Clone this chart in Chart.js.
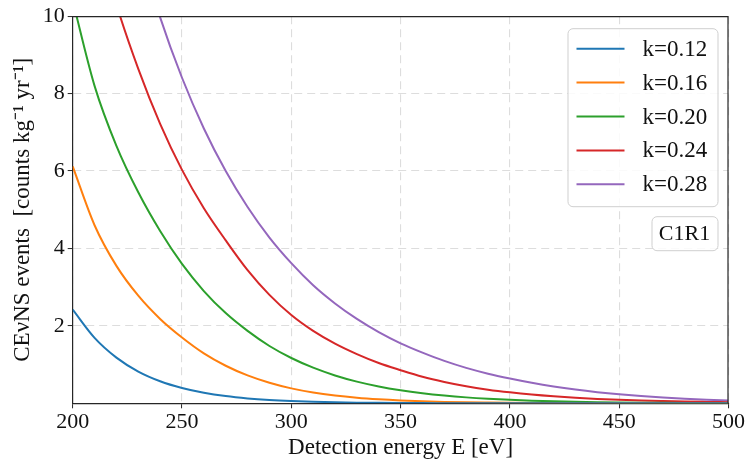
<!DOCTYPE html>
<html>
<head>
<meta charset="utf-8">
<script src="https://cdn.jsdelivr.net/npm/chart.js@4/dist/chart.umd.min.js"></script>
<style>
  html, body { margin: 0; padding: 0; background: #ffffff; }
  #wrap { width: 746px; height: 464px; }
</style>
</head>
<body>
<div id="wrap"><canvas id="chart" width="746" height="464"></canvas></div>
<script>
// Detection energy grid [eV]
const energies = [200, 210, 220, 230, 240, 250, 260, 270, 280, 290, 300,
                  310, 320, 330, 340, 350, 360, 370, 380, 390, 400,
                  410, 420, 430, 440, 450, 460, 470, 480, 490, 500];

// CEvNS event rates [counts / kg / yr] for each quenching parameter k
const rateK012 = [2.42, 1.69, 1.18, 0.82, 0.57, 0.395, 0.272, 0.186, 0.127, 0.086, 0.058,
                  0.039, 0.026, 0.017, 0.011, 0.007, 0.0046, 0.003, 0.0019, 0.0012, 0.0008,
                  0.0005, 0.0003, 0.0002, 0.0001, 0.0001, 0, 0, 0, 0, 0];
const rateK016 = [6.12, 4.6, 3.55, 2.78, 2.18, 1.7, 1.29, 0.97, 0.72, 0.53, 0.385,
                  0.278, 0.2, 0.143, 0.102, 0.072, 0.051, 0.036, 0.025, 0.018, 0.0125,
                  0.0087, 0.006, 0.0042, 0.0029, 0.002, 0.0014, 0.001, 0.0007, 0.0005, 0.0003];
const rateK020 = [10.4, 8.2, 6.65, 5.45, 4.45, 3.6, 2.9, 2.33, 1.87, 1.48, 1.17,
                  0.92, 0.72, 0.56, 0.435, 0.337, 0.26, 0.2, 0.153, 0.117, 0.089,
                  0.068, 0.052, 0.039, 0.03, 0.023, 0.017, 0.013, 0.01, 0.0075, 0.0057];
const rateK024 = [14.8, 12.3, 10.3, 8.64, 7.22, 6.03, 5.04, 4.21, 3.44, 2.8, 2.28,
                  1.87, 1.54, 1.27, 1.04, 0.855, 0.685, 0.55, 0.44, 0.353, 0.283,
                  0.225, 0.179, 0.142, 0.113, 0.09, 0.071, 0.057, 0.045, 0.036, 0.028];
const rateK028 = [19.6, 16.6, 14.0, 11.85, 9.97, 8.41, 7.1, 6.0, 5.07, 4.28, 3.62,
                  3.05, 2.58, 2.18, 1.84, 1.55, 1.31, 1.095, 0.915, 0.765, 0.64,
                  0.53, 0.435, 0.355, 0.288, 0.232, 0.186, 0.148, 0.117, 0.092, 0.072];

const seriesLabels = ['k=0.12', 'k=0.16', 'k=0.20', 'k=0.24', 'k=0.28'];
const seriesRates = [rateK012, rateK016, rateK020, rateK024, rateK028];
const seriesColors = ['#1f77b4', '#ff7f0e', '#2ca02c', '#d62728', '#9467bd'];

const xTickValues = [200, 250, 300, 350, 400, 450, 500];
const yTickValues = [2, 4, 6, 8, 10];
const detectorTag = 'C1R1';

const FONT = '"Liberation Serif", "Times New Roman", serif';
const TEXT = '#111111';
const AXIS = '#262626';

const datasets = seriesRates.map((rates, i) => ({
  label: seriesLabels[i],
  data: energies.map((e, j) => ({ x: e, y: rates[j] })),
  borderColor: seriesColors[i],
  backgroundColor: seriesColors[i],
  borderWidth: 2,
  pointRadius: 0,
  fill: false,
  cubicInterpolationMode: 'monotone'
}));

function roundedRect(ctx, x, y, w, h, r) {
  ctx.beginPath();
  ctx.moveTo(x + r, y);
  ctx.lineTo(x + w - r, y);
  ctx.arcTo(x + w, y, x + w, y + r, r);
  ctx.lineTo(x + w, y + h - r);
  ctx.arcTo(x + w, y + h, x + w - r, y + h, r);
  ctx.lineTo(x + r, y + h);
  ctx.arcTo(x, y + h, x, y + h - r, r);
  ctx.lineTo(x, y + r);
  ctx.arcTo(x, y, x + r, y, r);
  ctx.closePath();
}

// Top/right frame, in-plot legend and detector tag
const overlay = {
  id: 'overlay',
  afterDatasetsDraw(chart) {
    const { ctx, chartArea: a } = chart;
    ctx.save();
    ctx.strokeStyle = AXIS;
    ctx.lineWidth = 1.2;
    ctx.beginPath();
    ctx.moveTo(a.left, a.top + 0.5);
    ctx.lineTo(a.right - 0.5, a.top + 0.5);
    ctx.lineTo(a.right - 0.5, a.bottom);
    ctx.stroke();

    // legend
    const w = 150, h = 178;
    const x0 = a.right - 11 - w, y0 = a.top + 12;
    roundedRect(ctx, x0 + 0.5, y0 + 0.5, w, h, 5);
    ctx.fillStyle = 'rgba(255,255,255,0.85)';
    ctx.fill();
    ctx.strokeStyle = '#cfcfcf';
    ctx.lineWidth = 1;
    ctx.stroke();
    ctx.font = '23px ' + FONT;
    ctx.textBaseline = 'middle';
    ctx.textAlign = 'left';
    chart.data.datasets.forEach((ds, i) => {
      const y = y0 + 20.5 + i * 33.9;
      ctx.strokeStyle = ds.borderColor;
      ctx.lineWidth = 2;
      ctx.beginPath();
      ctx.moveTo(x0 + 9, y);
      ctx.lineTo(x0 + 57, y);
      ctx.stroke();
      ctx.fillStyle = TEXT;
      ctx.fillText(ds.label, x0 + 75, y + 1);
    });

    // detector tag
    const tw = 66, th = 34;
    const tx = a.right - 11 - tw, ty = a.top + 200;
    roundedRect(ctx, tx + 0.5, ty + 0.5, tw, th, 5);
    ctx.fillStyle = 'rgba(255,255,255,0.85)';
    ctx.fill();
    ctx.strokeStyle = '#cfcfcf';
    ctx.lineWidth = 1;
    ctx.stroke();
    ctx.fillStyle = TEXT;
    ctx.textAlign = 'center';
    ctx.font = '22px ' + FONT;
    ctx.fillText(detectorTag, tx + tw / 2, ty + th / 2 + 1);
    ctx.restore();
  }
};

new Chart(document.getElementById('chart'), {
  type: 'line',
  data: { datasets },
  plugins: [overlay],
  options: {
    responsive: false,
    animation: false,
    devicePixelRatio: 1,
    layout: { padding: { top: 16, right: 17, left: 0, bottom: 0 } },
    plugins: { legend: { display: false }, tooltip: { enabled: false } },
    scales: {
      x: {
        type: 'linear',
        min: 200,
        max: 500,
        afterBuildTicks: (s) => { s.ticks = xTickValues.map(v => ({ value: v })); },
        afterFit: (s) => { s.height = 60.7; },
        ticks: { font: { family: FONT, size: 22 }, color: TEXT, padding: 1, maxRotation: 0, autoSkip: false },
        grid: { color: '#dddddd', lineWidth: 1.1, tickColor: AXIS, tickLength: 5, tickWidth: 1 },
        border: { display: true, color: AXIS, width: 1.2, dash: [8, 5] },
        title: {
          display: true,
          text: 'Detection energy E [eV]',
          font: { family: FONT, size: 23 },
          color: TEXT,
          padding: { top: 0, bottom: 2 }
        }
      },
      y: {
        type: 'linear',
        min: 0,
        max: 10,
        afterBuildTicks: (s) => { s.ticks = yTickValues.map(v => ({ value: v })); },
        afterFit: (s) => { s.width = 72.7; },
        ticks: { font: { family: FONT, size: 22 }, color: TEXT, padding: 3 },
        grid: { color: '#dddddd', lineWidth: 1.1, tickColor: AXIS, tickLength: 5, tickWidth: 1 },
        border: { display: true, color: AXIS, width: 1.2, dash: [8, 5] },
        title: {
          display: true,
          text: 'CE\u03BDNS events  [counts kg\u207B\u00B9 yr\u207B\u00B9]',
          font: { family: FONT, size: 23 },
          color: TEXT,
          padding: { top: 9, bottom: 0 }
        }
      }
    }
  }
});
</script>
</body>
</html>
